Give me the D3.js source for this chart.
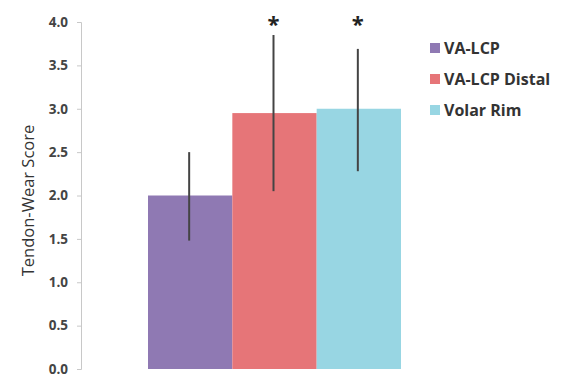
<!DOCTYPE html>
<html>
<head>
<meta charset="utf-8">
<script src="https://cdn.jsdelivr.net/npm/d3@7"></script>
<style>
  body { margin: 0; background: #fff; }
  text { font-family: "Open Sans", "DejaVu Sans", sans-serif; }
</style>
</head>
<body>
<script>
const groups = ["VA-LCP", "VA-LCP Distal", "Volar Rim"];
const means = [2.0, 2.95, 3.0];
const errHigh = [2.5, 3.85, 3.69];
const errLow = [1.48, 2.05, 2.28];
const marks = ["", "*", "*"];
const colors = ["#8f79b3", "#e67578", "#98d6e3"];
const yTicks = [0, 0.5, 1, 1.5, 2, 2.5, 3, 3.5, 4];

const width = 574, height = 377;
const svg = d3.select("body").append("svg")
    .attr("width", width)
    .attr("height", height);

const x = d3.scaleBand().domain(groups).range([148, 401]).paddingInner(0).paddingOuter(0);
const y = d3.scaleLinear().domain([0, 4]).range([369, 22]);

// y axis
const yAxis = d3.axisLeft(y)
    .tickValues(yTicks)
    .tickFormat(d3.format(".1f"))
    .tickSize(4);
const ga = svg.append("g")
    .attr("transform", "translate(81,0)")
    .call(yAxis);
ga.select(".domain").attr("stroke", "#c8c8c8");
ga.selectAll(".tick line").attr("stroke", "#c8c8c8");
ga.selectAll(".tick text")
    .attr("fill", "#444")
    .attr("font-size", 13.5)
    .attr("font-weight", "bold")
    .attr("x", -13);

svg.append("text")
    .attr("transform", `translate(34,${y(2) + 5}) rotate(-90)`)
    .attr("text-anchor", "middle")
    .attr("fill", "#333")
    .attr("font-size", 16.5)
    .text("Tendon-Wear Score");

// bars
svg.append("g").selectAll("rect")
    .data(groups)
    .enter()
    .append("rect")
    .attr("x", d => x(d))
    .attr("y", (d, i) => y(means[i]))
    .attr("width", x.bandwidth())
    .attr("height", (d, i) => y(0) - y(means[i]))
    .attr("fill", (d, i) => colors[i]);

// error bars
svg.append("g").selectAll("line")
    .data(groups)
    .enter()
    .append("line")
    .attr("x1", d => x(d) + x.bandwidth() / 2 - 1)
    .attr("x2", d => x(d) + x.bandwidth() / 2 - 1)
    .attr("y1", (d, i) => y(errHigh[i]))
    .attr("y2", (d, i) => y(errLow[i]))
    .attr("stroke", "#444")
    .attr("stroke-width", 2);

svg.append("g").selectAll("text")
    .data(groups)
    .enter()
    .append("text")
    .attr("x", d => x(d) + x.bandwidth() / 2 - 1)
    .attr("y", 32)
    .attr("text-anchor", "middle")
    .attr("font-size", 22)
    .attr("font-weight", "bold")
    .attr("fill", "#222")
    .text((d, i) => marks[i]);

// legend
const legend = svg.append("g").attr("id", "legend");
const ly = d3.scalePoint().domain(groups).range([48, 110]);
legend.selectAll("rect")
    .data(groups)
    .enter()
    .append("rect")
    .attr("x", 430)
    .attr("y", d => ly(d) - 5)
    .attr("width", 10)
    .attr("height", 10)
    .attr("fill", (d, i) => colors[i]);
legend.selectAll("text")
    .data(groups)
    .enter()
    .append("text")
    .attr("x", 444)
    .attr("y", d => ly(d) + 6)
    .attr("font-size", 16)
    .attr("font-weight", "bold")
    .attr("fill", "#333")
    .text(d => d);
</script>
</body>
</html>
